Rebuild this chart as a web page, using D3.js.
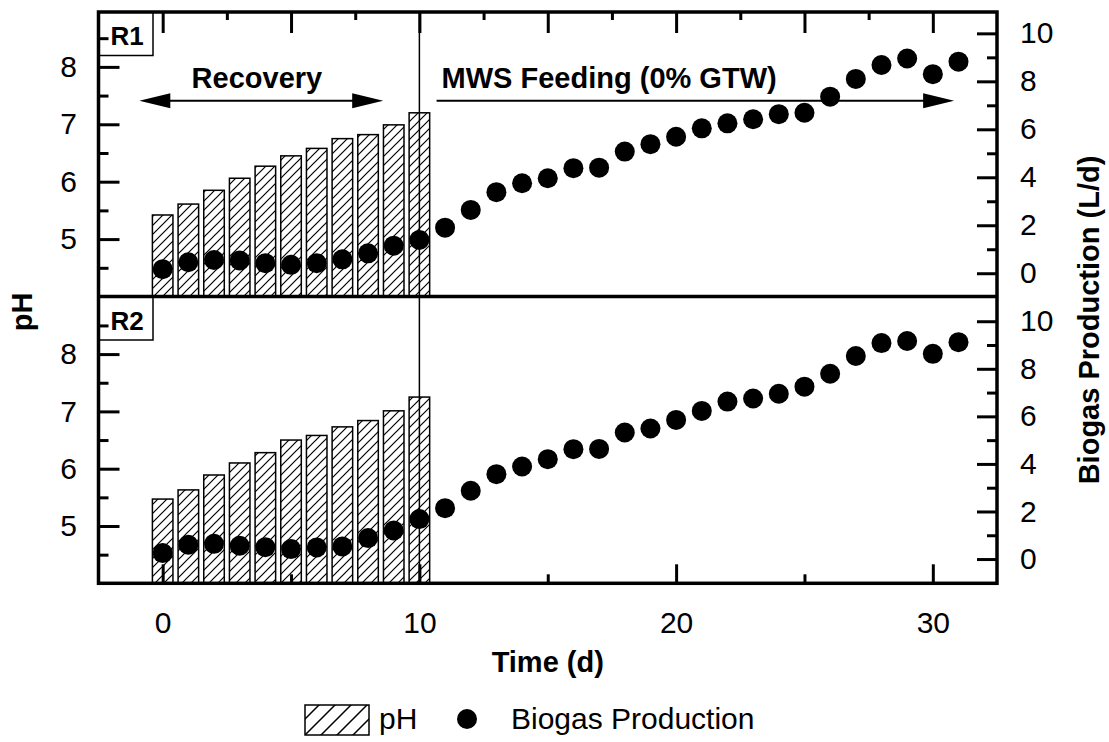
<!DOCTYPE html>
<html>
<head>
<meta charset="utf-8">
<script src="https://cdn.jsdelivr.net/npm/d3@7"></script>
<style>
  html, body { margin: 0; padding: 0; background: #fff; }
  svg { display: block; font-family: "Liberation Sans", Arial, sans-serif; }
</style>
</head>
<body>
<svg id="chart" width="1109" height="742"></svg>
<script>
// ---- data ----
const days = [0,1,2,3,4,5,6,7,8,9,10,11,12,13,14,15,16,17,18,19,20,21,22,23,24,25,26,27,28,29,30,31];
const phDays = [0,1,2,3,4,5,6,7,8,9,10];

const phR1 = [5.42,5.61,5.85,6.06,6.27,6.45,6.58,6.75,6.82,6.99,7.20];
const phR2 = [5.47,5.63,5.89,6.10,6.28,6.50,6.58,6.73,6.84,7.01,7.25];

const biogasR1 = [0.17,0.46,0.55,0.53,0.42,0.35,0.42,0.58,0.83,1.15,1.39,
                  1.90,2.64,3.38,3.75,3.96,4.38,4.40,5.07,5.38,5.69,
                  6.04,6.25,6.42,6.63,6.69,7.36,8.10,8.68,8.95,8.30,8.82];
const biogasR2 = [0.25,0.60,0.64,0.56,0.50,0.42,0.49,0.53,0.88,1.20,1.68,
                  2.14,2.87,3.57,3.89,4.20,4.62,4.63,5.32,5.49,5.85,
                  6.23,6.62,6.75,6.95,7.25,7.79,8.54,9.08,9.17,8.63,9.12];

const xMajorTicks = [0,10,20,30];
const xMinorTicks = [5,15,25];
const xTopMajor = [0,5,10,15,20,25,30];
const xTopMinor = [2.5,7.5,12.5,17.5,22.5,27.5];
const phMajorTicks = [5,6,7,8];
const phMinorTicks = [4.5,5.5,6.5,7.5,8.5];
const gasMajorTicks = [0,2,4,6,8,10];
const gasMinorTicks = [1,3,5,7,9];

const panelLabels = ["R1","R2"];
const phaseLabels = ["Recovery","MWS Feeding (0% GTW)"];
const phaseChange = 10;             // day when MWS feeding starts
const recoverySpan = [-0.91, 8.59]; // double arrow, days
const feedingSpan = [10.67, 30.83]; // single arrow, days

// ---- layout ----
const svg = d3.select("#chart");
const frame = { left: 98.5, right: 997, top: 12, mid: 296.5, bottom: 583.3 };
const FS = 30;   // regular text
const FB = 29;   // bold titles

const x = d3.scaleLinear().domain([-2.5, 32.5]).range([frame.left, frame.right]);

const defs = svg.append("defs");
function hatch(id, s, w) {
  const p = defs.append("pattern").attr("id", id)
    .attr("patternUnits", "userSpaceOnUse").attr("width", s).attr("height", s);
  p.append("rect").attr("width", s).attr("height", s).attr("fill", "#fff");
  p.append("path")
    .attr("d", `M${-s/4},${s/4} L${s/4},${-s/4} M0,${s} L${s},0 M${s*3/4},${s*5/4} L${s*5/4},${s*3/4}`)
    .attr("stroke", "#000").attr("stroke-width", w);
}
hatch("hatchBar", 9, 1.2);
hatch("hatchLegend", 16, 1.5);

function styleAxis(g) {
  g.select(".domain").remove();
  g.selectAll(".tick line").attr("stroke", "#000").attr("stroke-width", 3);
  g.selectAll(".tick text").attr("font-size", FS).attr("fill", "#000");
}

const panels = [
  { label: panelLabels[0], ph: phR1, gas: biogasR1, top: frame.top, bottom: frame.mid,
    phDomain: [4, 8.956], gasDomain: [-0.97, 10.89] },
  { label: panelLabels[1], ph: phR2, gas: biogasR2, top: frame.mid, bottom: frame.bottom,
    phDomain: [4, 9.005], gasDomain: [-1.02, 11.04] }
];

const barW = (x(1) - x(0)) * 0.8;

panels.forEach((p, pi) => {
  const yPH = d3.scaleLinear().domain(p.phDomain).range([p.bottom, p.top]);
  const yGas = d3.scaleLinear().domain(p.gasDomain).range([p.bottom, p.top]);
  const g = svg.append("g");

  // pH bars
  g.selectAll("rect.bar")
    .data(phDays.map((d, i) => ({ day: d, ph: p.ph[i] })))
    .join("rect").attr("class", "bar")
    .attr("x", d => x(d.day) - barW / 2)
    .attr("width", barW)
    .attr("y", d => yPH(d.ph))
    .attr("height", d => yPH(p.phDomain[0]) - yPH(d.ph))
    .attr("fill", "url(#hatchBar)")
    .attr("stroke", "#000").attr("stroke-width", 1.5);

  // phase separator
  g.append("line")
    .attr("x1", x(phaseChange)).attr("x2", x(phaseChange))
    .attr("y1", p.top).attr("y2", p.bottom)
    .attr("stroke", "#000").attr("stroke-width", 1.5);

  // biogas points
  g.selectAll("circle.pt")
    .data(days.map((d, i) => ({ day: d, v: p.gas[i] })))
    .join("circle").attr("class", "pt")
    .attr("cx", d => x(d.day)).attr("cy", d => yGas(d.v))
    .attr("r", 10).attr("fill", "#000");

  // reactor label box
  g.append("rect")
    .attr("x", frame.left).attr("y", p.top)
    .attr("width", 54.5).attr("height", 43.5)
    .attr("fill", "#fff").attr("stroke", "#000").attr("stroke-width", 1.5);
  g.append("text")
    .attr("x", frame.left + 12).attr("y", p.top + 33)
    .attr("font-size", 26).attr("font-weight", "bold").text(p.label);

  // left pH axis
  g.append("g").attr("transform", `translate(${frame.left},0)`)
    .call(d3.axisLeft(yPH).tickValues(phMajorTicks).tickSize(-21).tickPadding(21.5).tickFormat(d3.format("d")))
    .call(styleAxis);
  g.append("g").attr("transform", `translate(${frame.left},0)`)
    .call(d3.axisLeft(yPH).tickValues(phMinorTicks).tickSize(-10).tickFormat(() => ""))
    .call(styleAxis);

  // right biogas axis
  g.append("g").attr("transform", `translate(${frame.right},0)`)
    .call(d3.axisRight(yGas).tickValues(gasMajorTicks).tickSize(-20).tickPadding(23).tickFormat(d3.format("d")))
    .call(styleAxis);
  g.append("g").attr("transform", `translate(${frame.right},0)`)
    .call(d3.axisRight(yGas).tickValues(gasMinorTicks).tickSize(-10).tickFormat(() => ""))
    .call(styleAxis);

  if (pi === 0) {
    // top time axis (ticks only)
    g.append("g").attr("transform", `translate(0,${p.top})`)
      .call(d3.axisTop(x).tickValues(xTopMajor).tickSize(-21).tickFormat(() => ""))
      .call(styleAxis);
    g.append("g").attr("transform", `translate(0,${p.top})`)
      .call(d3.axisTop(x).tickValues(xTopMinor).tickSize(-8).tickFormat(() => ""))
      .call(styleAxis);

    // phase annotations
    const ay = yPH(7.41), ty = yPH(7.63);
    const head = (tipX, dir) => `M${tipX},${ay} L${tipX - dir * 31},${ay - 7.5} L${tipX - dir * 31},${ay + 7.5} Z`;
    const r0 = x(recoverySpan[0]), r1 = x(recoverySpan[1]);
    g.append("line").attr("x1", r0 + 20).attr("x2", r1 - 20).attr("y1", ay).attr("y2", ay)
      .attr("stroke", "#000").attr("stroke-width", 2);
    g.append("path").attr("d", head(r0, -1)).attr("fill", "#000");
    g.append("path").attr("d", head(r1, 1)).attr("fill", "#000");
    g.append("text").attr("x", x(3.67)).attr("y", ty).attr("text-anchor", "middle")
      .attr("font-size", FB).attr("font-weight", "bold").text(phaseLabels[0]);

    const f0 = x(feedingSpan[0]), f1 = x(feedingSpan[1]);
    g.append("line").attr("x1", f0).attr("x2", f1 - 20).attr("y1", ay).attr("y2", ay)
      .attr("stroke", "#000").attr("stroke-width", 2);
    g.append("path").attr("d", head(f1, 1)).attr("fill", "#000");
    g.append("text").attr("x", f0 + 5).attr("y", ty)
      .attr("font-size", FB).attr("font-weight", "bold").text(phaseLabels[1]);
  } else {
    // bottom time axis
    g.append("g").attr("transform", `translate(0,${p.bottom})`)
      .call(d3.axisBottom(x).tickValues(xMajorTicks).tickSize(-19).tickPadding(28).tickFormat(d3.format("d")))
      .call(styleAxis);
    g.append("g").attr("transform", `translate(0,${p.bottom})`)
      .call(d3.axisBottom(x).tickValues(xMinorTicks).tickSize(-9).tickFormat(() => ""))
      .call(styleAxis);
  }
});

// outer frame and panel divider
svg.append("rect")
  .attr("x", frame.left).attr("y", frame.top)
  .attr("width", frame.right - frame.left).attr("height", frame.bottom - frame.top)
  .attr("fill", "none").attr("stroke", "#000").attr("stroke-width", 3.5);
svg.append("line")
  .attr("x1", frame.left).attr("x2", frame.right).attr("y1", frame.mid).attr("y2", frame.mid)
  .attr("stroke", "#000").attr("stroke-width", 3.5);

// axis titles
svg.append("text")
  .attr("x", (frame.left + frame.right) / 2).attr("y", 672)
  .attr("text-anchor", "middle").attr("font-size", FB).attr("font-weight", "bold")
  .text("Time (d)");
svg.append("text")
  .attr("transform", "translate(32,312) rotate(-90)")
  .attr("text-anchor", "middle").attr("font-size", FB).attr("font-weight", "bold")
  .text("pH");
svg.append("text")
  .attr("transform", "translate(1099,320) rotate(-90)")
  .attr("text-anchor", "middle").attr("font-size", FB).attr("font-weight", "bold")
  .text("Biogas Production (L/d)");

// legend
const lg = svg.append("g");
lg.append("rect").attr("x", 305).attr("y", 705).attr("width", 64).attr("height", 30)
  .attr("fill", "url(#hatchLegend)").attr("stroke", "#000").attr("stroke-width", 1.5);
lg.append("text").attr("x", 379).attr("y", 729).attr("font-size", FS).text("pH");
lg.append("circle").attr("cx", 467).attr("cy", 719).attr("r", 10).attr("fill", "#000");
lg.append("text").attr("x", 511).attr("y", 729).attr("font-size", FS).text("Biogas Production");
</script>
</body>
</html>
